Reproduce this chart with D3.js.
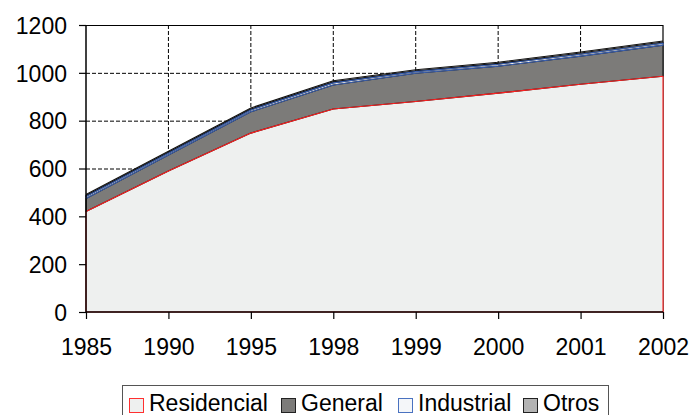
<!DOCTYPE html>
<html>
<head>
<meta charset="utf-8">
<script src="https://cdn.jsdelivr.net/npm/d3@7"></script>
<style>
  body { margin: 0; background: #fff; }
  svg text { font-family: "Liberation Sans", Arial, sans-serif; fill: #000; }
</style>
</head>
<body>
<div id="chart"></div>
<script>
// data
const years = ['1985', '1990', '1995', '1998', '1999', '2000', '2001', '2002'];
const residencial = [420, 590, 748, 849, 880, 915, 952, 986];
const general = [55, 66, 89, 100, 118, 113, 118, 130];
const industrial = [8, 8, 8, 9, 7, 8, 8, 8];
const otros = [4, 4, 4, 5, 4, 4, 5, 5];
const yTicks = [0, 200, 400, 600, 800, 1000, 1200];

const seriesKeys = ['Residencial', 'General', 'Industrial', 'Otros'];
const fills = { Residencial: '#eef0ef', General: '#7c7b79', Industrial: '#ffffff', Otros: '#b3b3b3' };
const strokes = { Residencial: '#ff2020', General: '#111111', Industrial: '#3a5fae', Otros: '#111111' };

const width = 694, height = 415;
const margin = { top: 25, right: 31, bottom: 103, left: 86 };
const innerwidth = width - margin.left - margin.right;
const innerheight = height - margin.top - margin.bottom;

let rows = years.map(function(y, i) {
  return { year: y, Residencial: residencial[i], General: general[i], Industrial: industrial[i], Otros: otros[i] };
});

let stacked = d3.stack().keys(seriesKeys)(rows);

let x_scale = d3.scalePoint().domain(years).range([0, innerwidth]);
let y_scale = d3.scaleLinear().domain([0, 1200]).range([innerheight, 0]);

let svg = d3.select('#chart').append('svg')
  .attr('width', width)
  .attr('height', height);

let g = svg.append('g')
  .attr('transform', 'translate(' + margin.left + ',' + margin.top + ')');

// grid
g.append('g')
  .selectAll('line')
  .data(years.slice(1, -1))
  .enter().append('line')
  .attr('x1', d => x_scale(d)).attr('x2', d => x_scale(d))
  .attr('y1', 0).attr('y2', innerheight)
  .attr('stroke', '#000').attr('stroke-width', 1)
  .attr('stroke-dasharray', '4,2');

g.append('g')
  .selectAll('line')
  .data(yTicks.slice(1, -1))
  .enter().append('line')
  .attr('x1', 0).attr('x2', innerwidth)
  .attr('y1', d => y_scale(d) + 0.5).attr('y2', d => y_scale(d) + 0.5)
  .attr('stroke', '#000').attr('stroke-width', 1)
  .attr('stroke-dasharray', '4,2');

// border top/right
g.append('path')
  .attr('d', 'M0,0.5H' + innerwidth + 'V' + innerheight)
  .attr('fill', 'none').attr('stroke', '#000').attr('stroke-width', 1.2);

let draw_area = d3.area()
  .x(d => x_scale(d.data.year))
  .y0(d => y_scale(d[0]))
  .y1(d => y_scale(d[1]));

// fills first, then outlines so the red residencial edge stays on top
g.append('g')
  .selectAll('path')
  .data(stacked)
  .enter().append('path')
  .attr('d', d => draw_area(d))
  .attr('fill', d => fills[d.key])
  .attr('stroke', 'none');

let strokeOrder = ['General', 'Otros', 'Industrial', 'Residencial'];
g.append('g')
  .selectAll('path')
  .data(strokeOrder.map(k => stacked.find(s => s.key === k)))
  .enter().append('path')
  .attr('d', d => draw_area(d))
  .attr('fill', 'none')
  .attr('stroke', d => strokes[d.key])
  .attr('stroke-width', 1.1)
  .attr('stroke-linejoin', 'round');

// top outline of the whole stack
let topLayer = stacked[stacked.length - 1];
g.append('path')
  .attr('d', d3.line().x(d => x_scale(d.data.year)).y(d => y_scale(d[1]) - 1)(topLayer))
  .attr('fill', 'none').attr('stroke', '#111').attr('stroke-width', 1.1);

// axes
let x_axis = d3.axisBottom(x_scale).tickSize(7).tickPadding(20);
let y_axis = d3.axisLeft(y_scale).tickValues(yTicks).tickFormat(d3.format('d')).tickSize(7).tickPadding(12);

let gx = g.append('g')
  .attr('transform', 'translate(0,' + innerheight + ')')
  .call(x_axis);
let gy = g.append('g').call(y_axis);

[gx, gy].forEach(function(a) {
  a.select('.domain').attr('stroke', '#000').attr('stroke-width', 1.5);
  a.selectAll('.tick line').attr('stroke', '#000').attr('stroke-width', 1.2);
  a.selectAll('.tick text').style('font-size', '23px');
});
gx.select('.domain').attr('d', 'M0,0H' + innerwidth);
gy.select('.domain').attr('d', 'M0,0V' + innerheight);
gy.selectAll('.tick text').attr('dy', '0.36em');

// legend
let legend = svg.append('g');
legend.append('rect')
  .attr('x', 122.5).attr('y', 385.5)
  .attr('width', 486).attr('height', 40)
  .attr('fill', '#fff').attr('stroke', '#555').attr('stroke-width', 1);

const legendX = [129, 281, 398, 523];
const swatchFill = { Residencial: '#eef0ef', General: '#7c7b79', Industrial: '#f4f6f9', Otros: '#b3b3b3' };
const swatchStroke = { Residencial: '#ff3030', General: '#222', Industrial: '#4a72c0', Otros: '#222' };

seriesKeys.forEach(function(k, i) {
  let item = legend.append('g').attr('transform', 'translate(' + legendX[i] + ',0)');
  item.append('rect')
    .attr('x', 0.5).attr('y', 398.5)
    .attr('width', 14).attr('height', 14)
    .attr('fill', swatchFill[k]).attr('stroke', swatchStroke[k]).attr('stroke-width', 1);
  item.append('text')
    .attr('x', 20).attr('y', 411)
    .style('font-size', '23px')
    .text(k);
});
</script>
</body>
</html>
